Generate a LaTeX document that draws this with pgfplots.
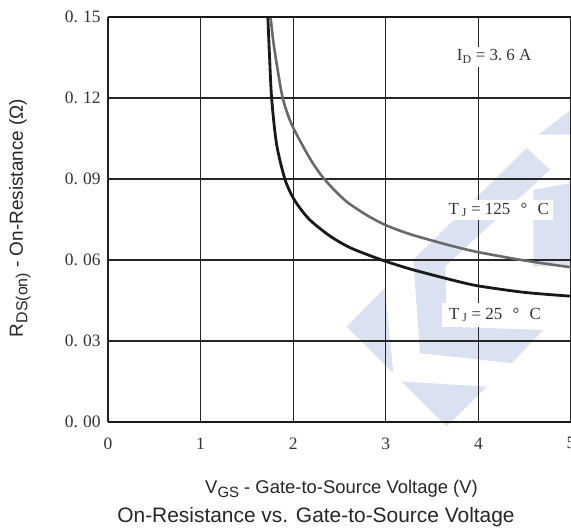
\documentclass[border=0pt]{standalone}
\usepackage{pgfplots}
\pgfplotsset{compat=1.18}
\usepackage{amsmath}
\usepackage{fontspec}
\setmainfont{Liberation Serif}
\newfontfamily\arial{Liberation Sans}
\usetikzlibrary{calc}
\definecolor{wm}{RGB}{218,226,242}
\definecolor{grayc}{RGB}{105,105,105}
\begin{document}
\begin{tikzpicture}
\begin{axis}[set layers,
  width=463bp, height=405bp, scale only axis,
  xmin=0, xmax=5, ymin=0, ymax=0.15,
  xtick={0,1,2,3,4,5}, xticklabels={0,1,2,3,4,5},
  ytick={0,0.03,0.06,0.09,0.12,0.15},
  yticklabels={0.\hspace{5bp}00,0.\hspace{5bp}03,0.\hspace{5bp}06,0.\hspace{5bp}09,0.\hspace{5bp}12,0.\hspace{5bp}15},
  grid=major, grid style={line width=1.1bp, draw=black!85},
  major tick length=0pt,
  axis line style={draw=none},
  tick label style={font=\fontsize{17.5}{17.5}\selectfont, text=black!80},
  yticklabel style={xshift=-4bp},
  xticklabel style={yshift=-12bp},
  /pgf/number format/assume math mode=true,
]
\begin{pgfonlayer}{axis background}
\fill[wm] (axis cs:4.647,0.1064) -- (axis cs:5.0,0.1157) -- (axis cs:5.0,0.1064) -- cycle;
\fill[wm] (axis cs:4.521,0.1015) -- (axis cs:4.773,0.0934) -- (axis cs:3.639,0.0576) -- (axis cs:3.297,0.0601) -- cycle;
\fill[wm] (axis cs:3.297,0.0601) -- (axis cs:3.639,0.0675) -- (axis cs:3.657,0.0353) -- (axis cs:4.701,0.0341) -- (axis cs:4.359,0.0218) -- (axis cs:3.369,0.0255) -- cycle;
\fill[wm] (axis cs:2.577,0.0353) -- (axis cs:2.991,0.0496) -- (axis cs:3.081,0.0181) -- cycle;
\fill[wm] (axis cs:3.171,0.0150) -- (axis cs:4.089,0.0131) -- (axis cs:3.657,-0.0017) -- cycle;
\fill[wm] (axis cs:4.593,0.0860) -- (axis cs:5.0,0.0885) -- (axis cs:5.0,0.0576) -- (axis cs:4.593,0.0576) -- cycle;
\end{pgfonlayer}
\addplot[grayc, line width=2.6bp, smooth, tension=0.5] coordinates {
 (1.755,0.150) (1.785,0.141) (1.82,0.133) (1.88,0.121) (1.94,0.114) (2.0,0.109)
 (2.1,0.1025) (2.2,0.0965) (2.3,0.0915) (2.4,0.0875) (2.5,0.084) (2.6,0.081) (2.8,0.0765)
 (3.0,0.0729) (3.25,0.0697) (3.5,0.0672) (3.75,0.0649) (4.0,0.0629) (4.5,0.0598) (5.0,0.0573)};
\addplot[black!90, line width=2.8bp, smooth, tension=0.5] coordinates {
 (1.726,0.150) (1.745,0.135) (1.767,0.120) (1.82,0.103) (1.91,0.090) (2.0,0.083)
 (2.1,0.078) (2.2,0.0742) (2.4,0.0688) (2.6,0.0648) (2.8,0.0620) (3.0,0.0595)
 (3.25,0.0568) (3.5,0.0545) (3.75,0.0523) (4.0,0.0504) (4.5,0.048) (5.0,0.0466)};
\node[fill=white, inner xsep=4bp, inner ysep=3bp, font=\fontsize{17}{17}\selectfont, text=black!80] at (axis cs:4.17,0.1353) {I$_{\text{D}}$ = 3.\hspace{4bp}6 A};
\node[fill=white, inner xsep=4bp, inner ysep=3bp, font=\fontsize{17}{17}\selectfont, text=black!80] at (axis cs:4.22,0.0786) {T\,$_{\text{J}}$ = 125 \hspace{6bp}°\hspace{6bp} C};
\node[fill=white, inner xsep=7bp, inner ysep=5bp, font=\fontsize{17}{17}\selectfont, text=black!80] at (axis cs:4.18,0.0397) {T\,$_{\text{J}}$ = 25 \hspace{6bp}°\hspace{6bp} C};
\draw[line width=2.6bp, black!90] (rel axis cs:0,1) -- (rel axis cs:0,0) -- (rel axis cs:1,0);
\draw[line width=2.2bp, black!90] (rel axis cs:0,1) -- (rel axis cs:1,1);
\coordinate (SW) at (rel axis cs:0,0);
\coordinate (NE) at (rel axis cs:1,1);
\end{axis}
\node[anchor=base, font=\arial\fontsize{18.5}{18.5}\selectfont, text=black!85] at ($(SW)+(233.5bp,-71bp)$) {V\raisebox{-4bp}{\fontsize{15}{15}\selectfont GS} - Gate-to-Source Voltage (V)};
\node[anchor=base, font=\arial\fontsize{21}{21}\selectfont, text=black!85] at ($(SW)+(208bp,-100bp)$) {On-Resistance vs. Gate-to-Source Voltage};
\node[anchor=base, font=\arial\fontsize{19}{19}\selectfont, text=black!85, rotate=90] at ($(SW)+(-85bp,204bp)$) {R\raisebox{-4.5bp}{\fontsize{16}{16}\selectfont DS(on)} - On-Resistance (Ω)};
\pgfresetboundingbox
\useasboundingbox ($(SW)+(-108bp,-106bp)$) rectangle ($(NE)+(0bp,17bp)$);
\end{tikzpicture}
\end{document}
